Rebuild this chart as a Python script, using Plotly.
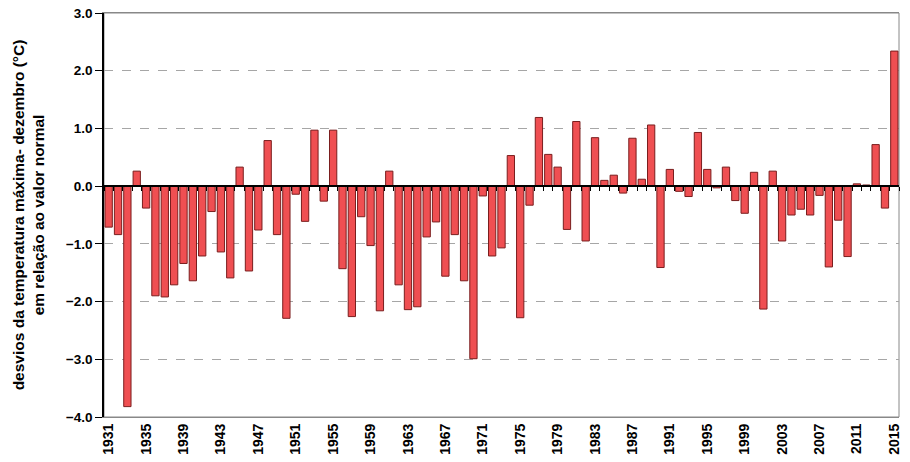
import plotly.graph_objects as go

# December max temperature anomalies (ºC) relative to normal, 1931-2015
years = list(range(1931, 2016))
anomalies = [
    -0.71, -0.84, -3.82, 0.26, -0.38, -1.90, -1.92, -1.71, -1.34, -1.64,  # 1931-1940
    -1.21, -0.44, -1.14, -1.59, 0.33, -1.47, -0.76, 0.79, -0.84, -2.29,   # 1941-1950
    -0.14, -0.61, 0.97, -0.26, 0.97, -1.43, -2.26, -0.53, -1.03, -2.16,   # 1951-1960
    0.26, -1.71, -2.14, -2.09, -0.88, -0.62, -1.56, -0.84, -1.64, -2.99,  # 1961-1970
    -0.17, -1.21, -1.07, 0.53, -2.28, -0.33, 1.19, 0.55, 0.33, -0.75,     # 1971-1980
    1.12, -0.95, 0.84, 0.10, 0.19, -0.12, 0.83, 0.12, 1.06, -1.41,        # 1981-1990
    0.29, -0.09, -0.18, 0.93, 0.29, -0.03, 0.33, -0.25, -0.47, 0.24,      # 1991-2000
    -2.13, 0.26, -0.95, -0.50, -0.40, -0.50, -0.16, -1.40, -0.59, -1.22,  # 2001-2010
    0.04, 0.02, 0.72, -0.38, 2.34,                                        # 2011-2015
]
tick_years = list(range(1931, 2016, 4))
y_ticks = [3, 2, 1, 0, -1, -2, -3, -4]

font = "Arial, Liberation Sans, sans-serif"

fig = go.Figure()
fig.add_trace(go.Bar(
    x=years, y=anomalies,
    marker=dict(color="#EF4F52", line=dict(color="#7A1E1E", width=1)),
    hovertemplate="%{x}: %{y:.2f} °C<extra></extra>",
))
# invisible trace so the zero-line category axis (Excel style ticks) is drawn
fig.add_trace(go.Scatter(
    x=years, y=anomalies, xaxis="x2", mode="markers",
    marker=dict(opacity=0), hoverinfo="skip", showlegend=False,
))

fig.update_layout(
    width=910, height=462,
    margin=dict(l=104, r=11, t=13, b=45),
    plot_bgcolor="white", paper_bgcolor="white",
    showlegend=False, bargap=0.22,
    font=dict(family=font, color="black"),
    xaxis=dict(
        range=[1930.5, 2015.5], tickmode="array", tickvals=tick_years,
        tickangle=-90, ticks="", showgrid=False, zeroline=False,
        showline=True, linecolor="#888888", mirror=True, automargin=False,
        tickfont=dict(size=14, weight="bold"),
    ),
    xaxis2=dict(
        overlaying="x", anchor="free", position=4 / 7,
        range=[1930.5, 2015.5], tick0=0.5, dtick=1,
        ticks="outside", ticklen=4, tickcolor="black",
        showticklabels=False, showgrid=False, zeroline=False,
        showline=True, linecolor="black", linewidth=1.5, automargin=False,
    ),
    yaxis=dict(
        range=[-4, 3], tickmode="array", tickvals=y_ticks, tickformat=".1f",
        ticks="outside", ticklen=7, tickcolor="black",
        showline=True, linecolor="black", linewidth=1.5, automargin=False,
        gridcolor="#A6A6A6", griddash="dash", gridwidth=1, zeroline=False,
        tickfont=dict(size=13.5, weight="bold"),
        title=dict(
            text="desvios da temperatura máxima- dezembro (°C)<br>em relação ao valor normal",
            font=dict(size=15.5, weight="bold"), standoff=17,
        ),
    ),
)
fig.add_shape(type="rect", xref="paper", yref="paper", x0=0, x1=1, y0=0, y1=1,
              line=dict(color="#888888", width=1), layer="below")

# drop the browser's default 8px body margin so the figure fills the window
fig.write_html(
    "out.html",
    config={"displayModeBar": False},
    post_script="document.body.style.margin='0';",
)
